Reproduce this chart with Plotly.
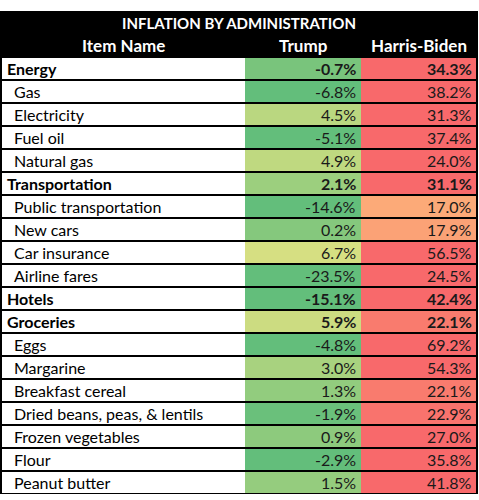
import plotly.graph_objects as go

# ---- data ----
title_text = "INFLATION BY ADMINISTRATION"
column_headers = ["Item Name", "Trump", "Harris-Biden"]
items = ["Energy", "Gas", "Electricity", "Fuel oil", "Natural gas",
         "Transportation", "Public transportation", "New cars", "Car insurance",
         "Airline fares", "Hotels", "Groceries", "Eggs", "Margarine",
         "Breakfast cereal", "Dried beans, peas, & lentils", "Frozen vegetables",
         "Flour", "Peanut butter"]
trump = [-0.7, -6.8, 4.5, -5.1, 4.9, 2.1, -14.6, 0.2, 6.7, -23.5, -15.1, 5.9,
         -4.8, 3.0, 1.3, -1.9, 0.9, -2.9, 1.5]
harris_biden = [34.3, 38.2, 31.3, 37.4, 24.0, 31.1, 17.0, 17.9, 56.5, 24.5, 42.4,
                22.1, 69.2, 54.3, 22.1, 22.9, 27.0, 35.8, 41.8]
is_category = [True, False, False, False, False, True, False, False, False, False,
               True, True, False, False, False, False, False, False, False]

# ---- layout constants ----
W_ITEM, W_TRUMP, W_HB = 243, 116, 115
FONT = "Lato"
n = len(items)
rows = list(range(n))

fig = go.Figure()

# item-name column (white cells)
fig.add_trace(go.Heatmap(
    x=[0, W_ITEM], y=rows, z=[[0] for _ in rows],
    colorscale=[[0, "white"], [1, "white"]], showscale=False,
    ygap=2, hoverinfo="skip"))

# value columns with colour scale
fig.add_trace(go.Heatmap(
    x=[W_ITEM, W_ITEM + W_TRUMP, W_ITEM + W_TRUMP + W_HB], y=rows,
    z=[[t, h] for t, h in zip(trump, harris_biden)],
    colorscale=[[0, "#63BE7B"], [0.4717, "#FFEB84"], [1, "#F8696B"]],
    zmin=-2.5, zmax=24, showscale=False, ygap=2, hoverinfo="skip"))

ann = []
# title
ann.append(dict(x=(W_ITEM + W_TRUMP + W_HB) / 2, y=-2, text="<b>%s</b>" % title_text,
                showarrow=False, xanchor="center", yanchor="middle",
                font=dict(family=FONT, size=15, color="white")))
# headers
hx = [W_ITEM / 2, W_ITEM + W_TRUMP / 2, W_ITEM + W_TRUMP + W_HB / 2]
for x, h in zip(hx, column_headers):
    ann.append(dict(x=x, y=-1, text="<b>%s</b>" % h, showarrow=False,
                    xanchor="center", yanchor="middle",
                    font=dict(family=FONT, size=17, color="white")))
# rows
for i, (name, t, h, cat) in enumerate(zip(items, trump, harris_biden, is_category)):
    fmt = (lambda s: "<b>%s</b>" % s) if cat else (lambda s: s)
    ann.append(dict(x=3 if cat else 10, y=i, text=fmt(name), showarrow=False,
                    xanchor="left", yanchor="middle",
                    font=dict(family=FONT, size=16, color="black")))
    ann.append(dict(x=W_ITEM + W_TRUMP - 3, y=i, text=fmt("%.1f%%" % t), showarrow=False,
                    xanchor="right", yanchor="middle",
                    font=dict(family=FONT, size=16, color="#1a1a1a")))
    ann.append(dict(x=W_ITEM + W_TRUMP + W_HB - 2, y=i, text=fmt("%.1f%%" % h),
                    showarrow=False, xanchor="right", yanchor="middle",
                    font=dict(family=FONT, size=16, color="#1a1a1a")))

fig.update_layout(
    width=479, height=500,
    margin=dict(l=2, r=3, t=11, b=6),
    paper_bgcolor="white", plot_bgcolor="black",
    annotations=ann,
    xaxis=dict(range=[0, W_ITEM + W_TRUMP + W_HB], showgrid=False, zeroline=False,
               showticklabels=False, ticks="", fixedrange=True),
    yaxis=dict(range=[n - 0.5, -2.5], showgrid=False, zeroline=False,
               showticklabels=False, ticks="", fixedrange=True,
               showline=True, mirror=True, linecolor="black", linewidth=2),
)

fig.write_html("out.html", config={"displayModeBar": False},
               post_script="document.body.style.margin='0px';document.body.style.overflow='hidden';")
